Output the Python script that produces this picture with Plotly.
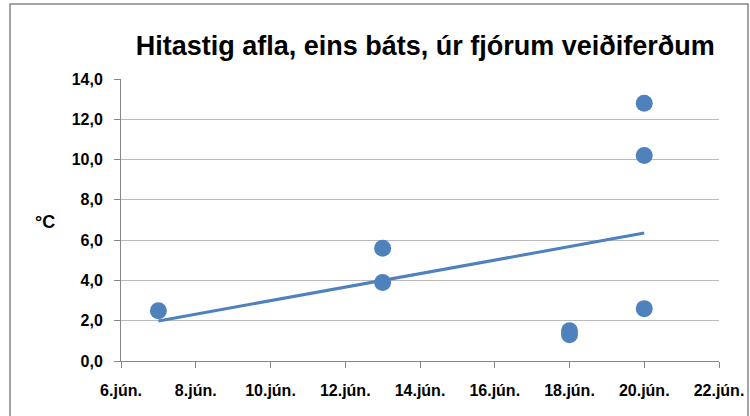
import numpy as np
import plotly.graph_objects as go

dates = ["2014-06-07", "2014-06-13", "2014-06-13", "2014-06-18", "2014-06-18",
         "2014-06-20", "2014-06-20", "2014-06-20"]
day_num = [7, 13, 13, 18, 18, 20, 20, 20]
temps = [2.5, 5.6, 3.9, 1.5, 1.3, 12.8, 10.2, 2.6]

tick_dates = ["2014-06-06", "2014-06-08", "2014-06-10", "2014-06-12", "2014-06-14",
              "2014-06-16", "2014-06-18", "2014-06-20", "2014-06-22"]
tick_labels = ["6.jún.", "8.jún.", "10.jún.", "12.jún.", "14.jún.",
               "16.jún.", "18.jún.", "20.jún.", "22.jún."]
y_ticks = [0, 2, 4, 6, 8, 10, 12, 14]
y_labels = ["0,0", "2,0", "4,0", "6,0", "8,0", "10,0", "12,0", "14,0"]

title = "Hitastig afla, eins báts, úr fjórum veiðiferðum"
color = "#4F81BD"

# Linear trendline (least squares), as Excel's trendline
slope, intercept = np.polyfit(day_num, temps, 1)
tx = [min(day_num), max(day_num)]
t_dates = [dates[day_num.index(tx[0])], dates[day_num.index(tx[1])]]
ty = [slope * v + intercept for v in tx]

fig = go.Figure()
fig.add_trace(go.Scatter(x=t_dates, y=ty, mode="lines",
                         line=dict(color=color, width=3), hoverinfo="skip"))
fig.add_trace(go.Scatter(x=dates, y=temps, mode="markers",
                         marker=dict(color=color, size=17)))

font_family = "Liberation Sans, Arial, sans-serif"
fig.update_layout(
    width=750, height=416,
    margin=dict(l=121, r=31, t=79, b=55, autoexpand=False),
    paper_bgcolor="white", plot_bgcolor="white",
    showlegend=False,
    title=dict(text="<b>" + title + "</b>", x=0.567, xanchor="center",
               y=0.89, yanchor="middle",
               font=dict(family=font_family, size=27, color="black")),
    xaxis=dict(type="date", range=["2014-06-06", "2014-06-22"], automargin=False,
               tickvals=tick_dates, ticktext=["<b>%s</b>" % t for t in tick_labels],
               ticks="outside", ticklen=6, tickcolor="#868686",
               ticklabelstandoff=9,
               showline=True, linecolor="#868686", linewidth=1,
               showgrid=False, zeroline=False,
               tickfont=dict(family=font_family, size=16, color="black")),
    yaxis=dict(range=[0, 14], tickvals=y_ticks, automargin=False,
               ticktext=["<b>%s</b>" % t for t in y_labels],
               ticks="outside", ticklen=6, tickcolor="#868686",
               ticklabelstandoff=8,
               showline=True, linecolor="#868686", linewidth=1,
               showgrid=True, gridcolor="#BBBBBB", gridwidth=1,
               zeroline=False,
               tickfont=dict(family=font_family, size=16, color="black")),
)
fig.add_annotation(text="<b>°C</b>", xref="paper", yref="paper",
                   x=(33 - 121) / 598, y=(361 - 222) / 282, showarrow=False,
                   font=dict(family=font_family, size=18, color="black"))
fig.add_shape(type="rect", xref="paper", yref="paper",
              x0=(10 - 121) / 598, x1=(748 - 121) / 598,
              y0=(361 - 430) / 282, y1=(361 - 4) / 282,
              line=dict(color="#868686", width=1.5), fillcolor="rgba(0,0,0,0)")
fig.write_html("out.html", config={"displayModeBar": False},
               post_script="document.body.style.margin='0';")
